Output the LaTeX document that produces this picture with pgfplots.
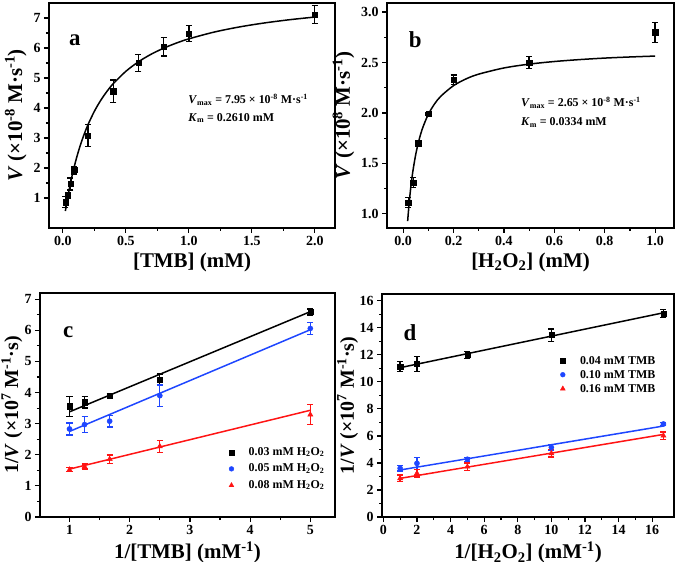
\documentclass[border=0pt]{standalone}
\usepackage{pgfplots}
\pgfplotsset{compat=1.18}
\usepackage{fontspec}
\setmainfont{Liberation Serif}
\definecolor{myblue}{RGB}{30,70,255}
\definecolor{myred}{RGB}{255,20,20}
\pgfplotsset{
  panel/.style={
    scale only axis,
    anchor=south west,
    axis line style={line width=1.5bp},
    tick align=outside,
    major tick length=5bp,
    minor tick length=3bp,
    every tick/.style={black, line width=1.2bp},
    xtick pos=bottom, ytick pos=left,
    ticklabel style={font=\bfseries\fontsize{14}{16}\selectfont},
    /pgf/number format/assume math mode=true,
    label style={font=\bfseries\fontsize{21}{23}\selectfont},
    minor x tick num=1, minor y tick num=1,
    legend cell align=left,
    legend style={draw=none, fill=none, font=\bfseries\fontsize{12}{14}\selectfont, row sep=1bp},
    error bars/error bar style={line width=1.3bp},
    error bars/error mark=-,
    error bars/error mark options={rotate=90, line width=1.3bp, mark size=3bp},
  },
  limg/.style={legend image code/.code={\path (-2bp,-3bp) (15bp,3bp); \draw[##1] plot coordinates {(0bp,0bp)};}},
  pts/.style={only marks, mark size=2.6bp, forget plot,
    error bars/y dir=both, error bars/y explicit},
  fit/.style={line width=1.5bp, forget plot},
}
\begin{document}
\begin{tikzpicture}
\useasboundingbox (0bp,0bp) rectangle (680bp,562bp);
% ---------------- panel a
\begin{axis}[panel, at={(49bp,334bp)}, width=286bp, height=225bp,
  xmin=-0.11, xmax=2.16, ymin=0, ymax=7.5,
  xtick={0,0.5,1,1.5,2}, ytick={1,2,3,4,5,6,7},
  xticklabel style={/pgf/number format/.cd, fixed, fixed zerofill, precision=1},
  xlabel={[TMB] (mM)},
  ylabel={\textit{V} (×10\textsuperscript{-8} M·s\textsuperscript{-1})}]
\addplot[pts, black, mark=square*] table[x=x, y=y, y error=e] {
x y e
0.02 0.86 0.18
0.04 1.08 0.10
0.06 1.47 0.20
0.09 1.93 0.13
0.2 3.08 0.37
0.4 4.56 0.37
0.6 5.50 0.28
0.8 6.04 0.31
1.0 6.48 0.26
2.0 7.11 0.30
};
\addplot[fit, black, smooth] coordinates {
(0.02,0.566) (0.03,0.820) (0.04,1.056) (0.05,1.275) (0.06,1.486) (0.07,1.681)
(0.08,1.865) (0.1,2.202) (0.12,2.504) (0.14,2.775) (0.17,3.136) (0.2,3.449)
(0.25,3.889) (0.3,4.251) (0.35,4.554) (0.4,4.811) (0.5,5.223) (0.6,5.540)
(0.7,5.791) (0.8,5.994) (0.9,6.163) (1.0,6.305) (1.2,6.530) (1.4,6.701)
(1.6,6.835) (1.8,6.943) (2.0,7.032)};
\node[font=\bfseries\fontsize{23}{25}\selectfont] at (rel axis cs:0.09,0.835) {a};
\node[anchor=west, font=\bfseries\fontsize{12}{14}\selectfont] at (rel axis cs:0.475,0.569) {\textit{V}\textsubscript{max} = 7.95 × 10\textsuperscript{-8} M·s\textsuperscript{-1}};
\node[anchor=west, font=\bfseries\fontsize{12}{14}\selectfont] at (rel axis cs:0.475,0.489) {\textit{K}\textsubscript{m} = 0.2610 mM};
\end{axis}
% ---------------- panel b
\begin{axis}[panel, at={(387bp,334bp)}, width=287bp, height=225bp,
  xmin=-0.064, xmax=1.075, ymin=0.86, ymax=3.09,
  xtick={0,0.2,0.4,0.6,0.8,1.0}, ytick={1,1.5,2,2.5,3},
  ticklabel style={/pgf/number format/.cd, fixed, fixed zerofill, precision=1},
  xlabel={[H\textsubscript{2}O\textsubscript{2}] (mM)},
  ylabel={\textit{V} (×10\textsuperscript{8} M·s\textsuperscript{-1})}]
\addplot[pts, black, mark=square*] table[x=x, y=y, y error=e] {
x y e
0.02 1.11 0.05
0.04 1.31 0.05
0.06 1.70 0.02
0.1 1.99 0.01
0.2 2.33 0.045
0.5 2.50 0.06
1.0 2.80 0.10
};
\addplot[fit, black, smooth] coordinates {
(0.018,0.928) (0.02,0.993) (0.025,1.134) (0.03,1.254) (0.035,1.356) (0.04,1.444)
(0.05,1.589) (0.06,1.702) (0.07,1.794) (0.08,1.869) (0.1,1.987) (0.125,2.091)
(0.15,2.167) (0.2,2.271) (0.25,2.338) (0.3,2.385) (0.4,2.446) (0.5,2.484)
(0.6,2.510) (0.7,2.529) (0.8,2.544) (0.9,2.555) (1.0,2.564)};
\node[font=\bfseries\fontsize{23}{25}\selectfont] at (rel axis cs:0.098,0.835) {b};
\node[anchor=west, font=\bfseries\fontsize{12}{14}\selectfont] at (rel axis cs:0.455,0.556) {\textit{V}\textsubscript{max} = 2.65 × 10\textsuperscript{-8} M·s\textsuperscript{-1}};
\node[anchor=west, font=\bfseries\fontsize{12}{14}\selectfont] at (rel axis cs:0.455,0.467) {\textit{K}\textsubscript{m} = 0.0334 mM};
\end{axis}
% ---------------- panel c
\begin{axis}[panel, at={(40bp,45bp)}, width=295bp, height=224bp,
  xmin=0.51, xmax=5.41, ymin=0, ymax=7.2,
  xtick={1,2,3,4,5}, ytick={0,1,2,3,4,5,6,7},
  xlabel={1/[TMB] (mM\textsuperscript{-1})},
  ylabel={1/\textit{V} (×10\textsuperscript{7} M\textsuperscript{-1}·s)},
  ylabel style={font=\bfseries\fontsize{20}{22}\selectfont, inner sep=0bp},
  ylabel shift=-1.5bp,
  legend style={at={(rel axis cs:0.63,0.335)}, anchor=north west, row sep=0bp,
    nodes={text height=9bp, text depth=3.5bp}}]
\addlegendimage{only marks, mark=square*, black, mark size=2.4bp, limg}
\addlegendentry{0.03 mM H\textsubscript{2}O\textsubscript{2}}
\addlegendimage{only marks, mark=*, myblue, mark size=2.4bp, limg}
\addlegendentry{0.05 mM H\textsubscript{2}O\textsubscript{2}}
\addlegendimage{only marks, mark=triangle*, myred, mark size=2.8bp, limg}
\addlegendentry{0.08 mM H\textsubscript{2}O\textsubscript{2}}
\addplot[pts, black, mark=square*] table[x=x, y=y, y error=e] {
x y e
1 3.56 0.32
1.25 3.69 0.19
1.667 3.90 0.08
2.5 4.42 0.18
5 6.59 0.10
};
\addplot[fit, black] coordinates {(1,3.38) (5,6.60)};
\addplot[pts, myblue, mark=*] table[x=x, y=y, y error=e] {
x y e
1 2.83 0.19
1.25 2.97 0.25
1.667 3.08 0.19
2.5 3.90 0.34
5 6.06 0.20
};
\addplot[fit, myblue] coordinates {(1,2.75) (5,6.02)};
\addplot[pts, myred, mark=triangle*, mark size=3bp] table[x=x, y=y, y error=e] {
x y e
1 1.52 0.06
1.25 1.62 0.08
1.667 1.86 0.13
2.5 2.27 0.20
5 3.29 0.32
};
\addplot[fit, myred] coordinates {(1,1.54) (5,3.43)};
\node[font=\bfseries\fontsize{23}{25}\selectfont] at (rel axis cs:0.096,0.827) {c};
\end{axis}
% ---------------- panel d
\begin{axis}[panel, at={(382bp,45bp)}, width=292bp, height=223bp,
  xmin=-0.08, xmax=17.3, ymin=0, ymax=16.5,
  xtick={0,2,...,16}, ytick={0,2,...,16},
  xlabel={1/[H\textsubscript{2}O\textsubscript{2}] (mM\textsuperscript{-1})},
  ylabel={1/\textit{V} (×10\textsuperscript{7} M\textsuperscript{-1}·s)},
  ylabel style={font=\bfseries\fontsize{20}{22}\selectfont, inner sep=0bp},
  ylabel shift=-2bp,
  legend style={at={(rel axis cs:0.6,0.742)}, anchor=north west, row sep=0bp,
    nodes={text height=8.5bp, text depth=1.5bp}}]
\addlegendimage{only marks, mark=square*, black, mark size=2.4bp, limg}
\addlegendentry{0.04 mM TMB}
\addlegendimage{only marks, mark=*, myblue, mark size=2.4bp, limg}
\addlegendentry{0.10 mM TMB}
\addlegendimage{only marks, mark=triangle*, myred, mark size=2.8bp, limg}
\addlegendentry{0.16 mM TMB}
\addplot[pts, black, mark=square*] table[x=x, y=y, y error=e] {
x y e
1 11.12 0.37
2 11.32 0.58
5 11.98 0.25
10 13.46 0.45
16.67 15.06 0.30
};
\addplot[fit, black] coordinates {(1,11.05) (16.67,15.11)};
\addplot[pts, myblue, mark=*] table[x=x, y=y, y error=e] {
x y e
1 3.60 0.20
2 3.97 0.45
5 4.27 0.15
10 5.15 0.20
16.67 6.88 0.12
};
\addplot[fit, myblue] coordinates {(1,3.48) (16.67,6.73)};
\addplot[pts, myred, mark=triangle*, mark size=3bp] table[x=x, y=y, y error=e] {
x y e
1 2.86 0.25
2 3.23 0.28
5 3.72 0.28
10 4.71 0.28
16.67 6.02 0.28
};
\addplot[fit, myred] coordinates {(1,2.86) (16.67,6.11)};
\node[font=\bfseries\fontsize{23}{25}\selectfont] at (rel axis cs:0.096,0.827) {d};
\end{axis}
\end{tikzpicture}
\end{document}
